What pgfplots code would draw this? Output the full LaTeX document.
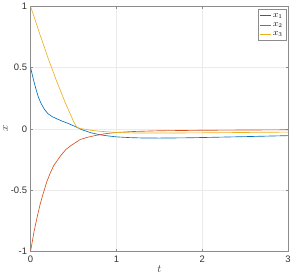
\documentclass[border=0pt]{standalone}
\usepackage{fontspec}
\setmainfont{Liberation Sans}
\usepackage{pgfplots}
\pgfplotsset{compat=1.18}
\definecolor{mb}{HTML}{0072BD}
\definecolor{mr}{HTML}{D95319}
\definecolor{my}{HTML}{EDB120}
\begin{document}
\begin{tikzpicture}
\begin{axis}[
  scale only axis, width=258bp, height=245bp,
  xmin=0, xmax=3, ymin=-1, ymax=1,
  xtick={0,1,2,3}, ytick={-1,-0.5,0,0.5,1},
  yticklabels={-1,-0.5,0,0.5,1},
  xticklabels={0,1,2,3},
  tick align=inside, tick pos=both,
  major tick length=2.5bp,
  axis line style={black!45, line width=0.5bp},
  every tick/.style={black!45, line width=0.5bp},
  grid=major, major grid style={black!8, line width=0.4bp},
  ticklabel style={font=\fontsize{9.5}{10}\selectfont, text=black!80},
  xticklabel style={yshift=-1bp},
  /pgf/number format/assume math mode=true,
  xlabel={$t$}, ylabel={$x$},
  xlabel style={font=\fontsize{11}{12}\selectfont, text=black!80, yshift=3bp},
  ylabel style={font=\fontsize{11}{12}\selectfont, text=black!80, yshift=-4bp},
  legend style={at={(0.993,0.988)}, anchor=north east, draw=black!45, line width=0.4bp,
    font=\fontsize{9}{11}\selectfont, inner sep=1.5bp, row sep=0bp,
    legend cell align=left},
  legend image code/.code={\draw[#1, line width=1bp] (0bp,0bp) -- (11bp,0bp);},
  every axis plot/.append style={line width=0.65bp},
]
\addplot[color=mb] coordinates {(0,0.5) (0.03,0.41) (0.06,0.33) (0.09,0.26) (0.12,0.21) (0.16,0.16) (0.2,0.125) (0.25,0.10) (0.31,0.08) (0.37,0.062) (0.43,0.046) (0.49,0.028) (0.545,0.01) (0.6,-0.008) (0.7,-0.032) (0.8,-0.048) (0.9,-0.058) (1.0,-0.066) (1.15,-0.072) (1.3,-0.075) (1.5,-0.076) (1.8,-0.074) (2.1,-0.07) (2.5,-0.064) (3,-0.056)};
\addlegendentry{$x_1$}
\addplot[color=mr] coordinates {(0,-1) (0.02,-0.92) (0.04,-0.84) (0.08,-0.71) (0.11,-0.62) (0.14,-0.545) (0.19,-0.43) (0.23,-0.36) (0.27,-0.30) (0.35,-0.22) (0.41,-0.17) (0.47,-0.137) (0.58,-0.087) (0.66,-0.07) (0.74,-0.057) (0.87,-0.04) (1.0,-0.03) (1.2,-0.022) (1.5,-0.016) (2,-0.012) (2.5,-0.01) (3,-0.008)};
\addlegendentry{$x_2$}
\addplot[color=my] coordinates {(0,1) (0.1,0.79) (0.2,0.585) (0.3,0.395) (0.4,0.22) (0.5,0.06) (0.54,0.01) (0.6,0.0) (0.7,-0.012) (0.8,-0.02) (1.0,-0.03) (1.2,-0.034) (1.5,-0.035) (2,-0.033) (2.5,-0.03) (3,-0.027)};
\addlegendentry{$x_3$}
\end{axis}
\end{tikzpicture}
\end{document}
